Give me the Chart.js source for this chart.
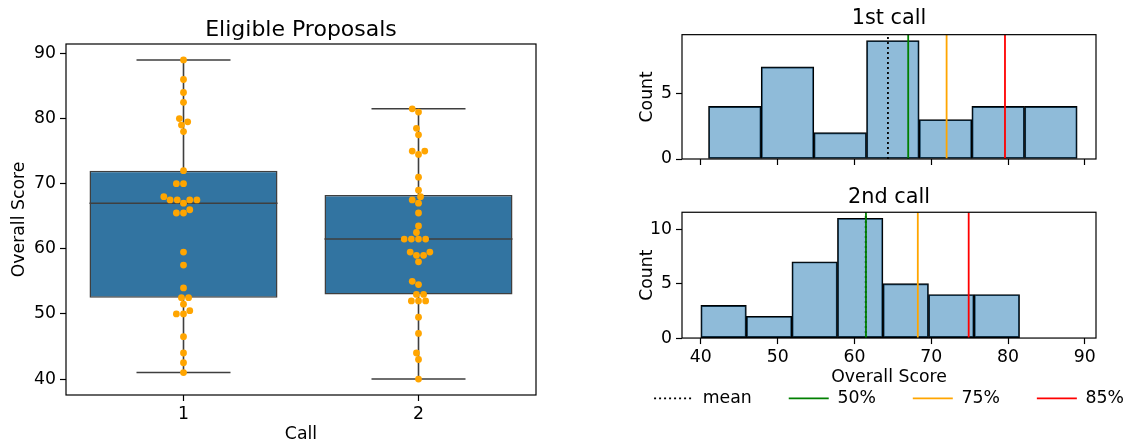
<!DOCTYPE html>
<html>
<head>
<meta charset="utf-8">
<script src="https://cdn.jsdelivr.net/npm/chart.js@4"></script>
<style>
  html, body { margin: 0; padding: 0; background: #fff; overflow: hidden; width: 1126px; height: 441px; }
  .panel { position: absolute; }
  #boxWrap { left: 0; top: 0; width: 560px; height: 460px; }
  #hist1Wrap { left: 609px; top: 0; width: 560px; height: 175px; }
  #hist2Wrap { left: 609px; top: 177px; width: 560px; height: 240px; }
</style>
</head>
<body>
<div class="panel" id="boxWrap"><canvas id="boxChart"></canvas></div>
<div class="panel" id="hist1Wrap"><canvas id="hist1"></canvas></div>
<div class="panel" id="hist2Wrap"><canvas id="hist2"></canvas></div>
<script>
// values
const calls = ['1', '2']
const callTitles = ['1st call', '2nd call']
const scoresCall1 = [89, 86, 84, 82.5, 80, 79.5, 79, 78, 72, 70, 70, 68, 67.5, 67.5, 67.5, 67.5, 67,
  66, 65.5, 65.5, 59.5, 57.5, 54, 52.5, 52.5, 51.5, 50.5, 50, 50, 46.5, 44, 42.5, 41]
const scoresCall2 = [81.5, 81, 78.5, 77.5, 75, 75, 74.5, 71, 69, 68, 67.5, 67, 65.5, 63.5, 62.5,
  61.5, 61.5, 61.5, 61.5, 59.5, 59.5, 59, 59, 58, 55, 54.5, 53, 53, 52, 52, 52, 49.5, 47, 44, 43, 40]
const scoreTicks = [40, 50, 60, 70, 80, 90]
const countTicks1 = [0, 5]
const countTicks2 = [0, 5, 10]
const lineLabels = ['mean', '50%', '75%', '85%']
const binCount = 7

const lineColors = ['#000000', '#008000', '#ffa500', '#ff0000']
const lineDashes = [[2, 3], [], [], []]

Chart.defaults.font.family = "'DejaVu Sans', sans-serif"
Chart.defaults.color = '#000'
Chart.defaults.animation = false

const tickFont = { size: 17.3 }
const titleFont = { size: 20.8, weight: 'normal' }
const tickGrid = { display: true, drawOnChartArea: false, drawTicks: true, tickLength: 6, tickWidth: 1.2, tickColor: '#000', offset: false }

const framePlugin = {
  id: 'frame',
  afterDatasetsDraw(chart) {
    const { ctx, chartArea: a } = chart
    ctx.save()
    ctx.strokeStyle = '#000'
    ctx.lineWidth = 1.2
    ctx.strokeRect(a.left, a.top, a.right - a.left, a.bottom - a.top)
    ctx.restore()
  }
}

function quantile(arr, q) {
  const s = [...arr].sort((a, b) => a - b)
  const pos = q * (s.length - 1)
  const i = Math.floor(pos)
  const f = pos - i
  return i + 1 < s.length ? s[i] + f * (s[i + 1] - s[i]) : s[i]
}

function boxStats(arr) {
  const q1 = quantile(arr, 0.25)
  const q3 = quantile(arr, 0.75)
  const iqr = q3 - q1
  const inside = arr.filter(v => v >= q1 - 1.5 * iqr && v <= q3 + 1.5 * iqr)
  return { q1, q3, med: quantile(arr, 0.5), lo: Math.min(...inside), hi: Math.max(...inside) }
}

const allScores = scoresCall1.concat(scoresCall2)
const scoreSpan = Math.max(...allScores) - Math.min(...allScores)
const scoreMin = Math.min(...allScores) - 0.05 * scoreSpan
const scoreMax = Math.max(...allScores) + 0.05 * scoreSpan

// ---------- box + swarm ----------
const groups = [scoresCall1, scoresCall2]
const stats = groups.map(boxStats)
const boxHalf = 0.4
const capHalf = 0.2

const boxData = stats.map((s, i) => ({ x: i, y: [s.q1, s.q3] }))
const whiskerData = []
const medianData = []
stats.forEach((s, i) => {
  whiskerData.push(
    { x: i, y: s.lo }, { x: i, y: s.q1 }, { x: i, y: null },
    { x: i, y: s.q3 }, { x: i, y: s.hi }, { x: i, y: null },
    { x: i - capHalf, y: s.lo }, { x: i + capHalf, y: s.lo }, { x: i, y: null },
    { x: i - capHalf, y: s.hi }, { x: i + capHalf, y: s.hi }, { x: i, y: null })
  medianData.push({ x: i - boxHalf, y: s.med }, { x: i + boxHalf, y: s.med }, { x: i, y: null })
})

const dotRadius = 3.4

const boxChart = new Chart(document.getElementById('boxChart'), {
  type: 'bar',
  data: {
    datasets: [
      { type: 'bar', label: 'box', data: boxData, backgroundColor: '#3274a1', borderColor: '#3f3f3f',
        borderWidth: 1.5, borderSkipped: false, barPercentage: 1, categoryPercentage: 2 * boxHalf, order: 3 },
      { type: 'line', label: 'whiskers', data: whiskerData, borderColor: '#3f3f3f', borderWidth: 1.6,
        pointRadius: 0, spanGaps: false, order: 2 },
      { type: 'line', label: 'median', data: medianData, borderColor: '#3f3f3f', borderWidth: 1.6,
        pointRadius: 0, spanGaps: false, order: 1 },
      { type: 'scatter', label: 'swarm', data: [], backgroundColor: '#ffa500', pointRadius: dotRadius,
        borderWidth: 0, order: 0 }
    ]
  },
  options: {
    responsive: true,
    maintainAspectRatio: false,
    events: [],
    layout: { padding: { right: 24, bottom: 19 } },
    plugins: {
      legend: { display: false },
      tooltip: { enabled: false },
      title: { display: true, text: 'Eligible Proposals', font: { size: 22, weight: 'normal' }, color: '#000',
        fullSize: false, padding: { top: 16.8, bottom: 0.8 } }
    },
    scales: {
      x: {
        type: 'linear', min: -0.5, max: calls.length - 0.5, offset: false,
        afterBuildTicks: s => { s.ticks = calls.map((c, i) => ({ value: i })) },
        ticks: { font: tickFont, color: '#000', padding: 3, callback: v => calls[v] },
        grid: tickGrid,
        border: { display: false },
        title: { display: true, text: 'Call', font: tickFont, color: '#000', padding: { top: 0, bottom: -3.9 } },
        afterFit: s => { s.height = 46 }
      },
      y: {
        type: 'linear', min: scoreMin, max: scoreMax,
        afterBuildTicks: s => { s.ticks = scoreTicks.map(v => ({ value: v })) },
        ticks: { font: tickFont, color: '#000', padding: 4 },
        grid: tickGrid,
        border: { display: false },
        title: { display: true, text: 'Overall Score', font: tickFont, color: '#000', padding: { top: 9.6, bottom: 0 } },
        afterFit: s => { s.width = 66 }
      }
    }
  },
  plugins: [framePlugin]
})

// beeswarm placement done in pixels, like seaborn's swarmplot
function swarm(chart) {
  const xs = chart.scales.x
  const ys = chart.scales.y
  const d = 2 * dotRadius
  const pts = []
  groups.forEach((vals, gi) => {
    const cx = xs.getPixelForValue(gi)
    const placed = []
    ;[...vals].sort((a, b) => a - b).forEach(v => {
      const py = ys.getPixelForValue(v)
      const near = placed.filter(p => Math.abs(p.py - py) < d)
      const cands = [cx]
      let leftFirst = true
      near.forEach(p => {
        const dx = Math.sqrt(Math.max(d * d - (p.py - py) ** 2, 0)) * 1.05
        const pair = leftFirst ? [p.px - dx, p.px + dx] : [p.px + dx, p.px - dx]
        cands.push(...pair)
        leftFirst = !leftFirst
      })
      cands.sort((a, b) => Math.abs(a - cx) - Math.abs(b - cx))
      const px = cands.find(c => near.every(p => (p.px - c) ** 2 + (p.py - py) ** 2 >= d * d - 0.01))
      placed.push({ px, py })
      pts.push({ x: xs.getValueForPixel(px), y: v })
    })
  })
  return pts
}
boxChart.data.datasets[3].data = swarm(boxChart)
boxChart.update('none')

// ---------- histograms ----------
function histogram(scores) {
  const lo = Math.min(...scores)
  const hi = Math.max(...scores)
  const w = (hi - lo) / binCount
  const counts = new Array(binCount).fill(0)
  scores.forEach(v => {
    let k = Math.floor((v - lo) / w)
    if (k >= binCount) k = binCount - 1
    counts[k]++
  })
  return counts.map((c, k) => ({ x: lo + (k + 0.5) * w, y: c }))
}

function markerValues(scores) {
  const mean = scores.reduce((a, b) => a + b, 0) / scores.length
  return [mean, quantile(scores, 0.5), quantile(scores, 0.75), quantile(scores, 0.85)]
}

function legendItems(chart) {
  return Chart.defaults.plugins.legend.labels.generateLabels(chart).map(item => {
    const ds = chart.data.datasets[item.datasetIndex]
    return Object.assign(item, { lineDash: ds.borderDash || [], lineWidth: ds.borderWidth, strokeStyle: ds.borderColor })
  })
}

function histChart(id, scores, title, countTicks, withAxisLabels) {
  const bins = histogram(scores)
  const yMax = Math.max(...bins.map(b => b.y)) * 1.05
  const lines = markerValues(scores).map((v, i) => ({
    type: 'line', label: lineLabels[i], data: [{ x: v, y: 0 }, { x: v, y: yMax }],
    borderColor: lineColors[i], borderWidth: 1.8, borderDash: lineDashes[i], pointRadius: 0,
    order: i === 0 ? 4 : 0
  }))
  return new Chart(document.getElementById(id), {
    type: 'bar',
    data: {
      datasets: lines.concat([{
        type: 'bar', label: 'Count', data: bins, backgroundColor: 'rgba(31,119,180,0.5)',
        borderColor: '#000', borderWidth: 1.2, borderSkipped: false,
        barPercentage: 1, categoryPercentage: 1, order: 5
      }])
    },
    options: {
      responsive: true,
      maintainAspectRatio: false,
      events: [],
      plugins: {
        tooltip: { enabled: false },
        title: { display: true, text: title, font: titleFont, color: '#000',
          padding: withAxisLabels ? { top: 8.3, bottom: 2 } : { top: 6.3, bottom: 3.4 } },
        legend: {
          display: withAxisLabels,
          position: 'bottom',
          align: 'center',
          // empty title with negative padding pulls the row up while labels.padding keeps the wide spacing
          title: { display: true, text: '', font: { size: 1 }, padding: { top: 0, bottom: -16.55 } },
          labels: {
            font: tickFont, color: '#000', usePointStyle: true, pointStyle: 'line',
            pointStyleWidth: 40, boxWidth: 40, padding: 37,
            generateLabels: legendItems,
            filter: item => item.datasetIndex < lineLabels.length,
            sort: (a, b) => a.datasetIndex - b.datasetIndex
          }
        }
      },
      scales: {
        x: {
          type: 'linear', min: scoreMin, max: scoreMax, offset: false,
          afterBuildTicks: s => { s.ticks = scoreTicks.map(v => ({ value: v })) },
          ticks: { display: withAxisLabels, font: tickFont, color: '#000', padding: 3 },
          grid: tickGrid,
          border: { display: false },
          title: { display: withAxisLabels, text: 'Overall Score', font: tickFont, color: '#000',
            padding: { top: 0, bottom: -19.7 } },
          afterFit: s => { s.height = withAxisLabels ? 30 : 16 }
        },
        y: {
          type: 'linear', min: 0, max: yMax,
          afterBuildTicks: s => { s.ticks = countTicks.map(v => ({ value: v })) },
          ticks: { font: tickFont, color: '#000', padding: 4 },
          grid: tickGrid,
          border: { display: false },
          title: { display: true, text: 'Count', font: tickFont, color: '#000', padding: { top: 28.1, bottom: 0 } },
          afterFit: s => { s.width = 73 }
        },
        yRight: {
          type: 'linear', position: 'right', display: true,
          grid: { display: false }, ticks: { display: false }, border: { display: false },
          afterFit: s => { s.width = 73 }
        }
      }
    },
    plugins: [framePlugin]
  })
}

histChart('hist1', scoresCall1, callTitles[0], countTicks1, false)
histChart('hist2', scoresCall2, callTitles[1], countTicks2, true)
</script>
</body>
</html>
